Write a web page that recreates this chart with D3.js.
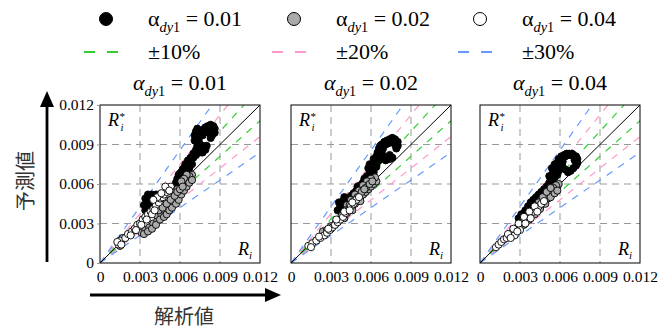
<!DOCTYPE html>
<html>
<head>
<meta charset="utf-8">
<script src="https://cdn.jsdelivr.net/npm/d3@7/dist/d3.min.js"></script>
<style>
  body { margin: 0; background: #fff; }
</style>
</head>
<body>
<div id="chart"></div>
<script>
const SERIF = '"Liberation Serif"';
const CJK = '"Noto Sans CJK JP"';

// axis ticks (same for x and y)
const tickValues = [0, 0.003, 0.006, 0.009, 0.012];
const tickLabels = ['0', '0.003', '0.006', '0.009', '0.012'];

// alpha_dy1 of each panel / series
const alphaLabels = ['0.01', '0.02', '0.04'];
const seriesFills = ['#000000', '#aaaaaa', '#ffffff'];

// error bands
const bandPercents = [10, 20, 30];
const bandColors = ['#33cc33', '#ff99cc', '#6699ff'];

// panel alpha = 0.01 : [analytical R_i, predicted R*_i]
const p1Black = [[0.0035,0.0046],[0.0036,0.0042],[0.0038,0.0040],[0.0037,0.0049],[0.0036,0.0052],[0.0039,0.0052],
  [0.0042,0.0052],[0.0045,0.0052],[0.0048,0.0052],[0.0050,0.0053],[0.0041,0.0048],[0.0044,0.0050],
  [0.0038,0.0050],[0.0040,0.0046],[0.0046,0.0050],[0.0034,0.0049],[0.0033,0.0044],[0.0034,0.0040],[0.0037,0.0037],
  [0.0053,0.0055],[0.0056,0.0057],[0.0058,0.0060],[0.0060,0.0063],[0.0061,0.0066],[0.0063,0.0068],
  [0.0060,0.0068],[0.0062,0.0071],[0.0065,0.0073],[0.0066,0.0075],[0.0068,0.0077],[0.0070,0.0080],
  [0.0058,0.0064],[0.0059,0.0067],[0.0061,0.0069],[0.0063,0.0072],[0.0064,0.0075],[0.0066,0.0078],
  [0.0068,0.0080],[0.0070,0.0083],[0.0057,0.0061],[0.0064,0.0070],[0.0067,0.0072],[0.0069,0.0075],
  [0.0072,0.0082],[0.0074,0.0084],[0.0076,0.0087],[0.0075,0.0090],[0.0074,0.0093],[0.0071,0.0097],
  [0.0074,0.0096],[0.0072,0.0100],[0.0075,0.0099],[0.0073,0.0102],[0.0077,0.0101],[0.0079,0.0103],
  [0.0081,0.0104],[0.0083,0.0105],[0.0085,0.0104],[0.0086,0.0102],[0.0086,0.0099],[0.0084,0.0097],
  [0.0083,0.0095],[0.0080,0.0089],[0.0079,0.0086],[0.0077,0.0084],
  [0.0072,0.0086],[0.0073,0.0089],[0.0076,0.0097],[0.0078,0.0099],[0.0080,0.0101],[0.0082,0.0102],
  [0.0084,0.0100],[0.0077,0.0097],[0.0077,0.0089],[0.0076,0.0084],[0.0078,0.0087],[0.0083,0.0098],[0.0071,0.0093]];
const p1Gray = [[0.0015,0.0013],[0.0016,0.0017],[0.0017,0.0019],[0.0031,0.0023],[0.0034,0.0025],[0.0037,0.0027],
  [0.0040,0.0030],[0.0043,0.0032],[0.0043,0.0036],[0.0046,0.0037],[0.0049,0.0039],[0.0051,0.0042],
  [0.0053,0.0044],[0.0055,0.0046],[0.0056,0.0049],[0.0058,0.0051],[0.0059,0.0054],[0.0061,0.0057],
  [0.0062,0.0060],[0.0064,0.0062],[0.0066,0.0064],[0.0068,0.0065],[0.0069,0.0067],[0.0067,0.0066],
  [0.0065,0.0067],[0.0063,0.0064],[0.0061,0.0062],[0.0058,0.0056],[0.0055,0.0053],[0.0052,0.0050],
  [0.0050,0.0047],[0.0047,0.0044],
  [0.0033,0.0022],[0.0036,0.0024],[0.0039,0.0026],[0.0042,0.0029],[0.0045,0.0033],[0.0048,0.0035],
  [0.0050,0.0037],[0.0052,0.0040],[0.0054,0.0042],[0.0057,0.0045],[0.0059,0.0048],[0.0061,0.0052],
  [0.0063,0.0055],[0.0065,0.0058],[0.0067,0.0061],[0.0069,0.0063],
  [0.0044,0.0040],[0.0047,0.0042],[0.0050,0.0045],[0.0053,0.0048],[0.0056,0.0051],[0.0058,0.0054],
  [0.0060,0.0056],[0.0062,0.0058]];
const p1White = [[0.0014,0.0014],[0.0015,0.0017],[0.0019,0.0019],[0.0021,0.0022],[0.0024,0.0024],[0.0026,0.0026],
  [0.0028,0.0029],[0.0030,0.0030],[0.0032,0.0033],[0.0034,0.0035],[0.0036,0.0037],[0.0038,0.0039],
  [0.0040,0.0041],[0.0042,0.0044],[0.0044,0.0046],[0.0045,0.0049],[0.0047,0.0050],[0.0048,0.0052],
  [0.0050,0.0054],[0.0051,0.0056],[0.0053,0.0058],[0.0043,0.0050],[0.0040,0.0048],[0.0046,0.0053],
  [0.0049,0.0058],[0.0013,0.0016],[0.0016,0.0014],[0.0023,0.0021],[0.0027,0.0025],[0.0031,0.0029],
  [0.0035,0.0033],[0.0039,0.0037],[0.0041,0.0040],[0.0052,0.0055]];

// panel alpha = 0.02
const p2Black = [[0.0035,0.0040],[0.0037,0.0043],[0.0036,0.0046],[0.0039,0.0047],[0.0041,0.0045],[0.0040,0.0050],
  [0.0043,0.0049],[0.0045,0.0051],[0.0047,0.0053],[0.0049,0.0055],[0.0050,0.0058],[0.0052,0.0059],
  [0.0054,0.0061],[0.0055,0.0064],[0.0057,0.0066],[0.0059,0.0068],[0.0060,0.0071],[0.0061,0.0074],
  [0.0063,0.0076],[0.0062,0.0079],[0.0064,0.0081],[0.0065,0.0084],[0.0066,0.0087],[0.0068,0.0090],
  [0.0070,0.0092],[0.0072,0.0093],[0.0074,0.0094],[0.0076,0.0095],[0.0078,0.0094],[0.0080,0.0092],
  [0.0080,0.0089],[0.0079,0.0087],[0.0074,0.0082],[0.0074,0.0079],
  [0.0071,0.0078],[0.0066,0.0078],[0.0067,0.0085],
  [0.0038,0.0041],[0.0042,0.0047],[0.0044,0.0048],[0.0046,0.0049],[0.0048,0.0052],[0.0051,0.0056],
  [0.0053,0.0057],[0.0056,0.0061],[0.0058,0.0063],[0.0060,0.0066],[0.0062,0.0069],[0.0064,0.0073],
  [0.0065,0.0077],[0.0058,0.0072],[0.0059,0.0075],
  [0.0067,0.0089],[0.0069,0.0087],[0.0071,0.0090],[0.0073,0.0091],[0.0075,0.0092],[0.0077,0.0092],
  [0.0078,0.0090],[0.0069,0.0081],[0.0068,0.0084],[0.0072,0.0080],[0.0076,0.0080]];
const p2Gray = [[0.0024,0.0024],[0.0027,0.0025],[0.0030,0.0026],[0.0033,0.0029],[0.0035,0.0031],[0.0038,0.0034],
  [0.0040,0.0036],[0.0042,0.0038],[0.0044,0.0041],[0.0046,0.0043],[0.0048,0.0045],[0.0050,0.0047],
  [0.0052,0.0050],[0.0054,0.0052],[0.0056,0.0054],[0.0058,0.0056],[0.0060,0.0058],[0.0062,0.0060],
  [0.0064,0.0062],[0.0063,0.0065],[0.0060,0.0064],[0.0057,0.0062],[0.0054,0.0059],[0.0051,0.0055],
  [0.0048,0.0052],[0.0045,0.0048],[0.0042,0.0044],
  [0.0030,0.0028],[0.0034,0.0032],[0.0038,0.0036],[0.0041,0.0040],[0.0044,0.0044],[0.0047,0.0047],
  [0.0050,0.0050],[0.0053,0.0054],[0.0056,0.0057],[0.0059,0.0060],[0.0061,0.0062],[0.0055,0.0056],
  [0.0040,0.0034],[0.0046,0.0040],[0.0052,0.0047]];
const p2White = [[0.0013,0.0013],[0.0016,0.0015],[0.0019,0.0017],[0.0022,0.0019],[0.0025,0.0021],[0.0027,0.0023],
  [0.0029,0.0025],[0.0031,0.0027],[0.0033,0.0029],[0.0035,0.0031],[0.0037,0.0033],[0.0039,0.0035],
  [0.0041,0.0038],[0.0043,0.0040],[0.0045,0.0043],[0.0047,0.0045],[0.0049,0.0048],[0.0051,0.0050],
  [0.0015,0.0012],[0.0021,0.0020],[0.0028,0.0026],[0.0034,0.0033],[0.0040,0.0039],[0.0046,0.0046],[0.0044,0.0040]];

// panel alpha = 0.04
const p3Black = [[0.0029,0.0034],[0.0031,0.0037],[0.0034,0.0040],[0.0036,0.0043],[0.0038,0.0046],[0.0040,0.0048],
  [0.0042,0.0050],[0.0044,0.0052],[0.0046,0.0054],[0.0048,0.0056],[0.0050,0.0058],[0.0052,0.0061],
  [0.0053,0.0064],[0.0054,0.0067],[0.0055,0.0070],[0.0057,0.0073],[0.0058,0.0076],[0.0060,0.0078],
  [0.0062,0.0080],[0.0064,0.0081],[0.0066,0.0082],[0.0068,0.0082],[0.0070,0.0082],[0.0072,0.0081],
  [0.0073,0.0079],[0.0073,0.0076],[0.0072,0.0074],[0.0070,0.0072],[0.0068,0.0070],[0.0066,0.0069],
  [0.0064,0.0071],[0.0062,0.0073],[0.0059,0.0070],[0.0057,0.0068],[0.0056,0.0065],
  [0.0033,0.0037],[0.0037,0.0041],[0.0041,0.0046],[0.0045,0.0050],[0.0049,0.0054],[0.0051,0.0057],
  [0.0053,0.0060],[0.0055,0.0062],[0.0052,0.0066],[0.0054,0.0072],[0.0056,0.0075],[0.0059,0.0079],
  [0.0061,0.0081],[0.0063,0.0082],[0.0065,0.0083],[0.0067,0.0083],[0.0069,0.0083],[0.0071,0.0080],
  [0.0071,0.0078],[0.0060,0.0076],[0.0062,0.0077],[0.0057,0.0071],[0.0058,0.0067]];
const p3Gray = [[0.0029,0.0027],[0.0031,0.0029],[0.0033,0.0031],[0.0035,0.0033],[0.0037,0.0035],[0.0039,0.0037],
  [0.0041,0.0039],[0.0043,0.0041],[0.0045,0.0043],[0.0047,0.0045],[0.0049,0.0047],[0.0051,0.0049],
  [0.0052,0.0052],[0.0054,0.0054],[0.0056,0.0056],[0.0058,0.0058],[0.0059,0.0060],[0.0057,0.0059],
  [0.0055,0.0057],[0.0050,0.0051],[0.0046,0.0048],[0.0044,0.0046],[0.0042,0.0043],
  [0.0033,0.0029],[0.0037,0.0033],[0.0041,0.0037],[0.0045,0.0041],[0.0049,0.0045],[0.0053,0.0050],
  [0.0056,0.0053],[0.0058,0.0055],[0.0047,0.0050],[0.0050,0.0054],[0.0053,0.0057]];
const p3White = [[0.0012,0.0012],[0.0014,0.0014],[0.0016,0.0016],[0.0018,0.0018],[0.0020,0.0019],[0.0022,0.0021],
  [0.0024,0.0023],[0.0026,0.0025],[0.0028,0.0027],[0.0030,0.0029],[0.0032,0.0031],[0.0034,0.0033],
  [0.0036,0.0035],[0.0038,0.0037],[0.0040,0.0039],[0.0042,0.0041],[0.0044,0.0043],[0.0046,0.0045],
  [0.0048,0.0047],[0.0026,0.0021],[0.0030,0.0025],
  [0.0021,0.0022],[0.0025,0.0026],[0.0029,0.0030],[0.0033,0.0035],[0.0037,0.0039],[0.0041,0.0043],
  [0.0023,0.0019],[0.0028,0.0024],[0.0034,0.0030],[0.0038,0.0034],[0.0043,0.0039]];

const panelData = [[p1Black, p1Gray, p1White], [p2Black, p2Gray, p2White], [p3Black, p3Gray, p3White]];

const W = 672, H = 329;
const panelLeft = [100, 291, 480];
const panelTop = 105, panelW = 160, panelH = 158;

const svg = d3.select('#chart').append('svg').attr('width', W).attr('height', H);

// alpha label with subscript dy1
function alphaText(sel, value, italicAlpha, size) {
  sel.style('font-family', SERIF).attr('fill', '#000');
  sel.append('tspan').attr('font-style', italicAlpha ? 'italic' : 'normal').text('α');
  sel.append('tspan').attr('font-style', 'italic').attr('font-size', size * 0.65).attr('dy', size * 0.28).text('dy');
  sel.append('tspan').attr('font-size', size * 0.65).text('1');
  sel.append('tspan').attr('dy', -size * 0.28).text(' = ' + value);
}

// legend
const legend = svg.append('g');
const legX = [106, 294, 480];
alphaLabels.forEach((a, i) => {
  legend.append('circle').attr('cx', legX[i]).attr('cy', 19).attr('r', 6.5)
    .attr('fill', seriesFills[i]).attr('stroke', '#000').attr('stroke-width', 1);
  const t = legend.append('text').attr('x', legX[i] + 42).attr('y', 26).attr('font-size', 22);
  alphaText(t, a, false, 22);
});
bandPercents.forEach((p, i) => {
  legend.append('line').attr('x1', legX[i] - 22).attr('x2', legX[i] + 12).attr('y1', 52).attr('y2', 52)
    .attr('stroke', bandColors[i]).attr('stroke-width', 2).attr('stroke-dasharray', '11,12');
  legend.append('text').attr('x', legX[i] + 42).attr('y', 59).attr('font-size', 22)
    .style('font-family', SERIF).text('±' + p + '%');
});

const x = d3.scaleLinear().domain([0, 0.012]).range([0, panelW]);
const y = d3.scaleLinear().domain([0, 0.012]).range([panelH, 0]);

panelData.forEach((series, pi) => {
  const g = svg.append('g').attr('transform', `translate(${panelLeft[pi]},${panelTop})`);

  // title
  const title = svg.append('text').attr('x', panelLeft[pi] + panelW / 2).attr('y', 90)
    .attr('text-anchor', 'middle').attr('font-size', 22);
  alphaText(title, alphaLabels[pi], true, 22);

  g.append('clipPath').attr('id', 'clip' + pi)
    .append('rect').attr('width', panelW).attr('height', panelH);

  // grid
  const grid = tickValues.slice(1, 4);
  g.selectAll('.gx').data(grid).enter().append('line')
    .attr('x1', d => x(d)).attr('x2', d => x(d)).attr('y1', 0).attr('y2', panelH)
    .attr('stroke', '#999').attr('stroke-dasharray', '7,5');
  g.selectAll('.gy').data(grid).enter().append('line')
    .attr('y1', d => y(d)).attr('y2', d => y(d)).attr('x1', 0).attr('x2', panelW)
    .attr('stroke', '#999').attr('stroke-dasharray', '7,5');

  // error bands
  const bands = g.append('g').attr('clip-path', `url(#clip${pi})`);
  bandPercents.forEach((p, i) => {
    [1 / (1 - p / 100), 1 - p / 100].forEach(k => {
      bands.append('line')
        .attr('x1', x(0)).attr('y1', y(0)).attr('x2', x(0.012)).attr('y2', y(0.012 * k))
        .attr('stroke', bandColors[i]).attr('stroke-width', 1.2).attr('stroke-dasharray', '7,7');
    });
  });
  bands.append('line').attr('x1', x(0)).attr('y1', y(0)).attr('x2', x(0.012)).attr('y2', y(0.012))
    .attr('stroke', '#000').attr('stroke-width', 1);

  // points
  series.forEach((pts, si) => {
    g.append('g').selectAll('circle').data(pts).enter().append('circle')
      .attr('cx', d => x(d[0])).attr('cy', d => y(d[1])).attr('r', 3.6)
      .attr('fill', seriesFills[si]).attr('stroke', '#000').attr('stroke-width', 0.9);
  });

  // frame
  g.append('rect').attr('width', panelW).attr('height', panelH)
    .attr('fill', 'none').attr('stroke', '#000').attr('stroke-width', 1);

  // x axis
  const xa = g.append('g').attr('transform', `translate(0,${panelH})`)
    .call(d3.axisBottom(x).tickValues(tickValues).tickFormat((d, i) => tickLabels[i]).tickSize(0).tickPadding(8));
  xa.select('.domain').remove();
  xa.selectAll('text').style('font-family', SERIF).style('font-size', '15.5px').attr('fill', '#000');

  if (pi === 0) {
    const ya = g.append('g')
      .call(d3.axisLeft(y).tickValues(tickValues).tickFormat((d, i) => tickLabels[i]).tickSize(3).tickPadding(3));
    ya.select('.domain').remove();
    ya.selectAll('line').attr('stroke', '#999');
    ya.selectAll('text').style('font-family', SERIF).style('font-size', '15.5px').attr('fill', '#000');
  }

  // R*_i and R_i labels
  const r1 = g.append('text').attr('x', 8).attr('y', 21).attr('font-size', 18)
    .style('font-family', SERIF).attr('font-style', 'italic');
  r1.append('tspan').text('R');
  r1.append('tspan').attr('font-size', 11).attr('dy', -6).text('*');
  r1.append('tspan').attr('font-size', 11).attr('dx', -4).attr('dy', 11).text('i');
  const r2 = g.append('text').attr('x', panelW - 22).attr('y', panelH - 8).attr('font-size', 18)
    .style('font-family', SERIF).attr('font-style', 'italic');
  r2.append('tspan').text('R');
  r2.append('tspan').attr('font-size', 11).attr('dy', 4).text('i');
});

// axis arrows and labels
svg.append('line').attr('x1', 47).attr('x2', 47).attr('y1', 262).attr('y2', 104)
  .attr('stroke', '#000').attr('stroke-width', 2.8);
svg.append('path').attr('d', 'M47,91 L40,107 L54,107 Z').attr('fill', '#000');
svg.append('text').style('font-family', CJK).attr('fill', '#333').attr('font-size', 20)
  .attr('transform', 'translate(33,181) rotate(-90)').attr('text-anchor', 'middle').text('予測値');

svg.append('line').attr('x1', 90).attr('x2', 267).attr('y1', 295).attr('y2', 295)
  .attr('stroke', '#000').attr('stroke-width', 2.8);
svg.append('path').attr('d', 'M281,295 L265,288 L265,302 Z').attr('fill', '#000');
svg.append('text').style('font-family', CJK).attr('fill', '#333').attr('font-size', 20)
  .attr('x', 184).attr('y', 324).attr('text-anchor', 'middle').text('解析値');
</script>
</body>
</html>
